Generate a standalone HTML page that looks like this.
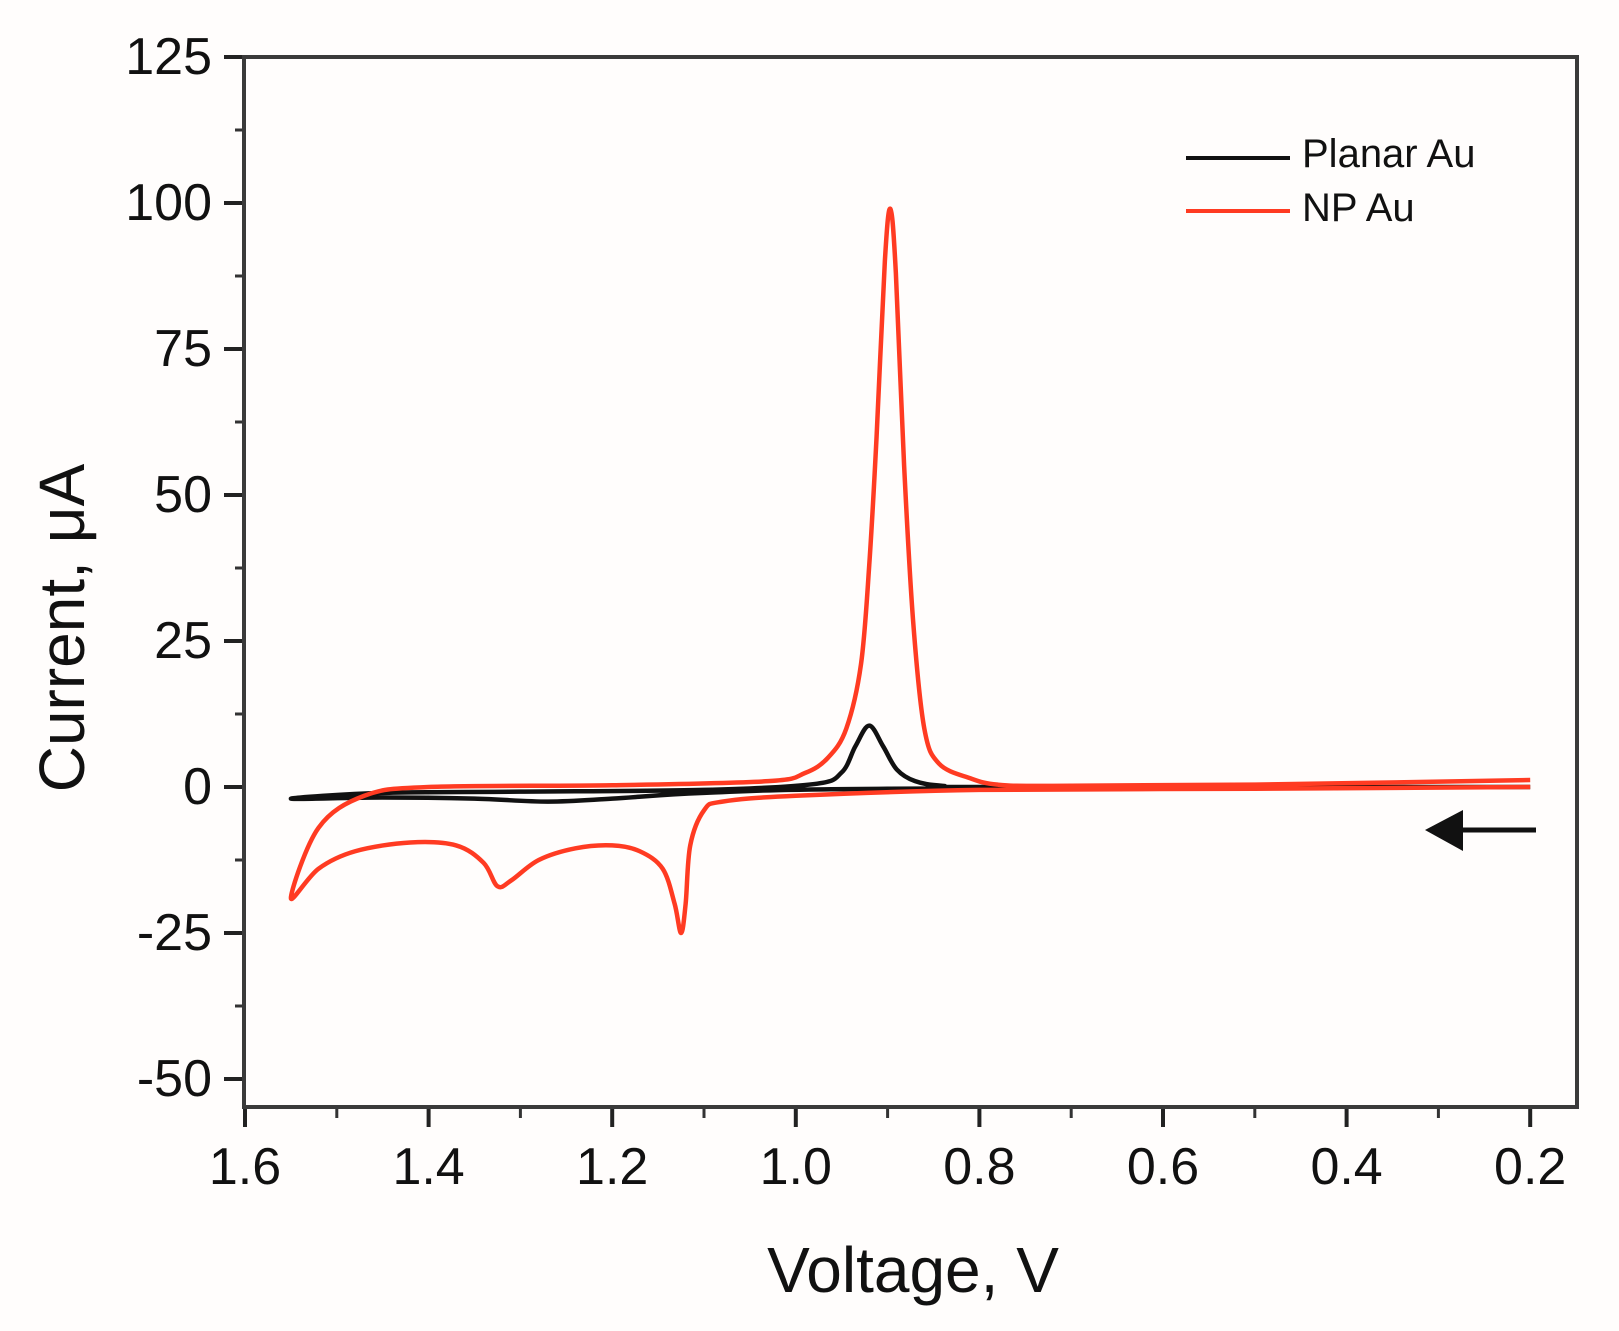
<!DOCTYPE html>
<html><head><meta charset="utf-8">
<style>html,body{margin:0;padding:0;background:#fffdfc}svg{display:block}text{font-family:"Liberation Sans",sans-serif;fill:#111}</style>
</head><body>
<svg id="s" width="1619" height="1331" viewBox="0 0 1619 1331" xmlns="http://www.w3.org/2000/svg">
<rect width="1619" height="1331" fill="#fffdfc"/>
<g id="ticks"></g>
<path id="blk" fill="none" stroke="#111" stroke-width="4.5" stroke-linejoin="round"/>
<path id="red" fill="none" stroke="#ff3b22" stroke-width="4.5" stroke-linejoin="round"/>
<rect x="244" y="57" width="1333" height="1050" fill="none" stroke="#3a3a3a" stroke-width="4"/>
<line x1="1186" y1="158" x2="1290" y2="158" stroke="#111" stroke-width="4"/>
<line x1="1186" y1="211" x2="1290" y2="211" stroke="#ff3b22" stroke-width="4"/>
<text x="1302" y="167" font-size="40">Planar Au</text>
<text x="1302" y="221" font-size="40">NP Au</text>
<line x1="1455" y1="830" x2="1536" y2="830" stroke="#111" stroke-width="5"/>
<polygon points="1425,830 1463,810 1463,851" fill="#111"/>
<text x="913" y="1292" font-size="64" text-anchor="middle">Voltage, V</text>
<text transform="translate(84,628) rotate(-90)" font-size="64" text-anchor="middle">Current, μA</text>
</svg>
<script>
const X=v=>245+(1.6-v)/0.2*183.6, Y=i=>787-i*5.84;
let t='';
for(let k=0;k<=14;k++){const i=125-k*12.5,y=Y(i);
 if(k%2==0){t+=`<line x1="224" y1="${y}" x2="244" y2="${y}" stroke="#222" stroke-width="4"/>`;
  t+=`<text x="212" y="${y+17}" font-size="52" text-anchor="end">${i}</text>`;}
 else t+=`<line x1="235" y1="${y}" x2="244" y2="${y}" stroke="#333" stroke-width="3"/>`;}
for(let k=0;k<=14;k++){const v=1.6-k*0.1,x=X(v);
 if(k%2==0){t+=`<line x1="${x}" y1="1107" x2="${x}" y2="1127" stroke="#222" stroke-width="4"/>`;
  t+=`<text x="${x}" y="1184" font-size="52" text-anchor="middle">${v.toFixed(1)}</text>`;}
 else t+=`<line x1="${x}" y1="1107" x2="${x}" y2="1118" stroke="#333" stroke-width="3"/>`;}
document.getElementById('ticks').innerHTML=t;
function path(pts){const p=pts.map(a=>[X(a[0]),Y(a[1])]);let d=`M${p[0][0]},${p[0][1]}`;
 for(let i=0;i<p.length-1;i++){const p0=p[Math.max(i-1,0)],p1=p[i],p2=p[i+1],p3=p[Math.min(i+2,p.length-1)];
  d+=`C${p1[0]+(p2[0]-p0[0])/6},${p1[1]+(p2[1]-p0[1])/6} ${p2[0]-(p3[0]-p1[0])/6},${p2[1]-(p3[1]-p1[1])/6} ${p2[0]},${p2[1]}`;}return d;}
const red=[[0.2,1.2],[0.5,0.4],[0.72,0.2],[0.78,0.4],[0.81,1.5],[0.844,4],[0.86,10],[0.872,28],[0.882,55],[0.891,88],[0.897,99],[0.903,90],[0.912,60],[0.92,38],[0.929,21],[0.945,10],[0.965,5],[0.99,2.4],[1.03,1],[1.2,0.3],[1.4,0],[1.47,-1.5],[1.52,-7],[1.55,-19],
[1.52,-14],[1.48,-11],[1.42,-9.5],[1.37,-10],[1.34,-13],[1.325,-17],[1.31,-16],[1.28,-12.5],[1.24,-10.5],[1.2,-10],[1.17,-11],[1.145,-14],[1.132,-20],[1.125,-25],[1.12,-20],[1.115,-10],[1.10,-4],[1.08,-2.5],[1.0,-1.5],[0.8,-0.5],[0.5,-0.3],[0.2,0]];
const blk=[[0.2,0],[0.78,0],[0.84,0.2],[0.87,1],[0.89,3],[0.905,7],[0.92,10.5],[0.935,7],[0.95,2.5],[0.98,0.5],[1.1,-0.5],[1.3,-0.8],[1.45,-1],[1.55,-2],[1.45,-1.8],[1.35,-2],[1.27,-2.5],[1.2,-2],[1.1,-1],[0.9,-0.3],[0.2,0]];
document.getElementById('red').setAttribute('d',path(red));
document.getElementById('blk').setAttribute('d',path(blk));
</script>
</body></html>
